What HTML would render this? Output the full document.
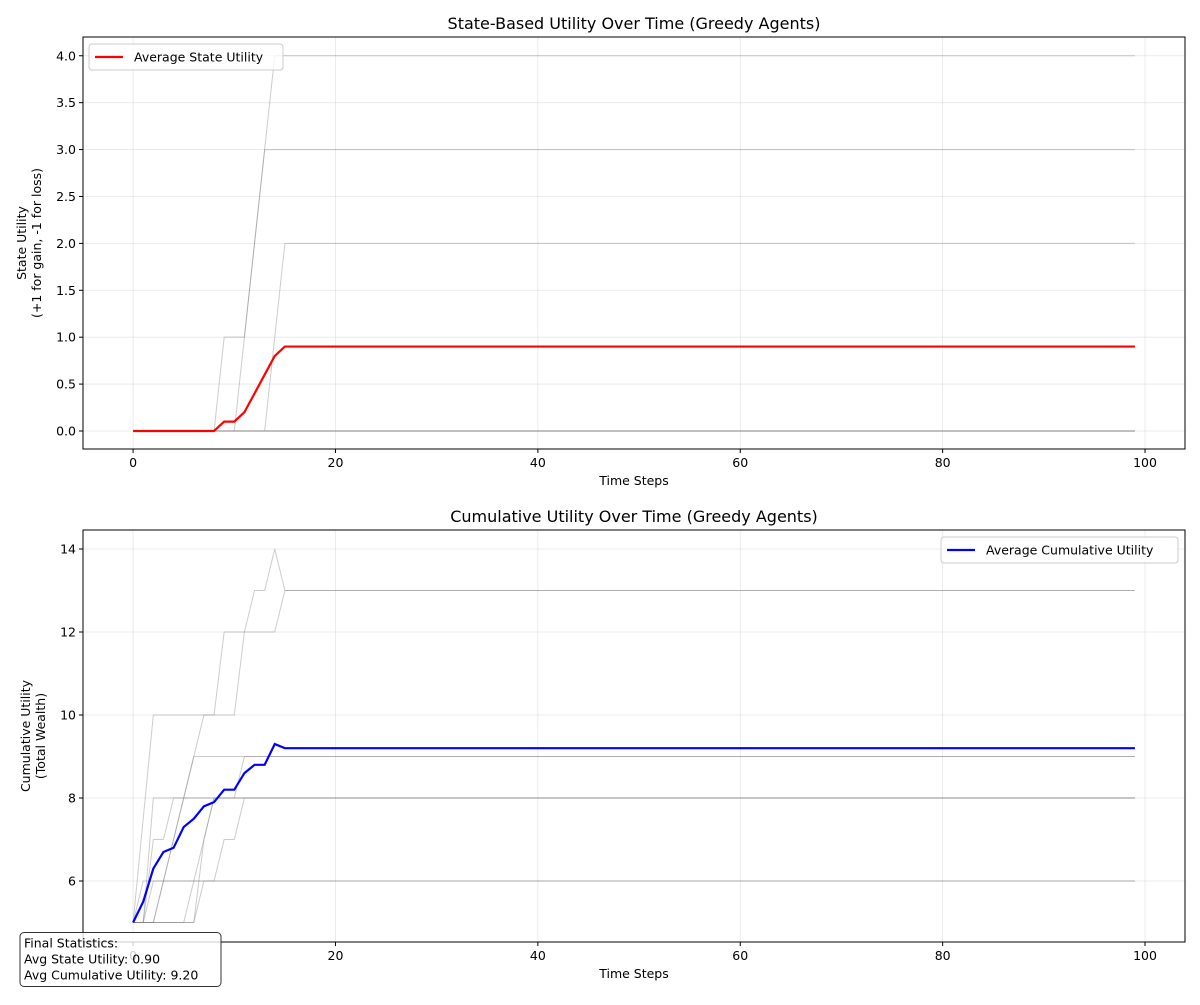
<!DOCTYPE html>
<html><head><meta charset="utf-8"><style>
body{margin:0;background:#fff;}
svg text{font-family:"DejaVu Sans","Liberation Sans",sans-serif;}
</style></head><body>
<svg id="fig" width="1200" height="1000" viewBox="0 0 1200 1000" xmlns="http://www.w3.org/2000/svg"></svg>
<script>
const timeSteps = 100;
const stateAvg = [0,0,0,0,0,0,0,0,0,0.1,0.1,0.2,0.4,0.6,0.8,0.9];
const stateAgents = [
 [0,0,0,0,0,0,0,0,0,1,1,1,2,3,3],
 [0,0,0,0,0,0,0,0,0,0,0,1,2,3,4],
 [0,0,0,0,0,0,0,0,0,0,0,0,0,0,1,2],
 [0],[0],[0],[0],[0],[0],[0]
];
const cumAvg = [5,5.5,6.3,6.7,6.8,7.3,7.5,7.8,7.9,8.2,8.2,8.6,8.8,8.8,9.3,9.2];
const cumAgents = [
 [5,7.5,10,10,10,10,10,10,10,12,12,12,13,13,14,13],
 [5,5,5,6,7,8,9,10,10,10,10,12,12,12,12,13],
 [5,5,7,7,8,8,9,9,9,9,9,9],
 [5,5,5,5,5,5,5,7,8,8,8,9],
 [5,5,8,8,8,8,8],
 [5,5,6,6,7,8,8],
 [5,6,6,6,6,6],
 [5,5,5,6,6,6],
 [5,5,5,5,5,5,5,6,6,7,7,8],
 [5,5,5,5,5,5,6,7,8,8,8,8]
];
const topYTicks = [0,0.5,1,1.5,2,2.5,3,3.5,4];
const botYTicks = [6,8,10,12,14];
const xTicks = [0,20,40,60,80,100];

const NS="http://www.w3.org/2000/svg";
const svg=document.getElementById('fig');
function el(tag,attrs,parent){const e=document.createElementNS(NS,tag);for(const k in attrs)e.setAttribute(k,attrs[k]);(parent||svg).appendChild(e);return e;}
function extend(arr){const a=arr.slice();while(a.length<timeSteps)a.push(a[a.length-1]);return a;}

function panel(o){
  const g=el('g',{});
  
  
  const L=83,R=1185,T=o.top,B=o.top+412;
  const xmin=-4.95,xmax=103.95;
  const xs=v=>L+(v-xmin)/(xmax-xmin)*(R-L);
  const ys=v=>B-(v-o.ymin)/(o.ymax-o.ymin)*(B-T);
  xTicks.forEach(t=>{const l=el('line',{x1:xs(t),x2:xs(t),y1:T,y2:B,stroke:'#b0b0b0','stroke-opacity':0.3,'stroke-width':0.8},g);});
  o.yticks.forEach(t=>{const l=el('line',{x1:L,x2:R,y1:ys(t),y2:ys(t),stroke:'#b0b0b0','stroke-opacity':0.3,'stroke-width':0.8},g);});
  o.agents.forEach(a=>{const v=extend(a);const p=el('polyline',{points:v.map((y,i)=>xs(i)+','+ys(y)).join(' '),fill:'none',stroke:'#808080','stroke-opacity':0.4,'stroke-width':1},g);});
  const av=extend(o.avg);
  const p=el('polyline',{points:av.map((y,i)=>xs(i)+','+ys(y)).join(' '),fill:'none',stroke:o.color,'stroke-width':2.2},g);
  
  const f=el('rect',{x:L,y:T,width:R-L,height:B-T,fill:'none',stroke:'#000','stroke-width':1},g);
  
  xTicks.forEach(t=>{el('line',{x1:xs(t),x2:xs(t),y1:B,y2:B+4,stroke:'#000'},g);const tx=el('text',{x:xs(t),y:B+18,'text-anchor':'middle','font-size':12.5},g);tx.textContent=t;});
  o.yticks.forEach(t=>{el('line',{x1:L-4,x2:L,y1:ys(t),y2:ys(t),stroke:'#000'},g);const tx=el('text',{x:L-7,y:ys(t)+4.5,'text-anchor':'end','font-size':12.5},g);tx.textContent=o.fmt(t);});
  const tt=el('text',{x:(L+R)/2,y:T-8,'text-anchor':'middle','font-size':16},g);tt.textContent=o.title;
  const xl=el('text',{x:(L+R)/2,y:B+36,'text-anchor':'middle','font-size':12.5},g);xl.textContent='Time Steps';
  const cy=(T+B)/2;
  const yl=el('text',{transform:`translate(${o.ylx},${cy}) rotate(-90)`,'text-anchor':'middle','font-size':12.5},g);
  
  const t1=el('tspan',{x:0,dy:0},yl);t1.textContent=o.ylab[0];
  const t2=el('tspan',{x:0,dy:15},yl);t2.textContent=o.ylab[1];
  const lg=el('g',{},g);
  el('rect',{x:o.lx,y:T+7,width:o.lw,height:26,rx:3,fill:'#fff','fill-opacity':0.8,stroke:'#ccc'},lg);
  el('line',{x1:o.lx+6,x2:o.lx+34,y1:T+20,y2:T+20,stroke:o.color,'stroke-width':2.2},lg);
  const lt=el('text',{x:o.lx+45,y:T+24.5,'font-size':12.5},lg);lt.textContent=o.leg;
}
panel({name:'state-utility-chart',top:37,ymin:-0.192,ymax:4.2,yticks:topYTicks,fmt:t=>t.toFixed(1),agents:stateAgents,avg:stateAvg,color:'#ff0000',title:'State-Based Utility Over Time (Greedy Agents)',ylab:['State Utility','(+1 for gain, -1 for loss)'],ylx:26,lx:89,lw:194,leg:'Average State Utility'});
panel({name:'cumulative-utility-chart',top:530,ymin:4.53,ymax:14.458,yticks:botYTicks,fmt:t=>t,agents:cumAgents,avg:cumAvg,color:'#0000ff',title:'Cumulative Utility Over Time (Greedy Agents)',ylab:['Cumulative Utility','(Total Wealth)'],ylx:30,lx:941,lw:237,leg:'Average Cumulative Utility'});
const sb=el('g',{});
el('rect',{x:20,y:932.5,width:201,height:54,rx:4,fill:'#fff','fill-opacity':0.8,stroke:'#333'},sb);
['Final Statistics:','Avg State Utility: 0.90','Avg Cumulative Utility: 9.20'].forEach((s,i)=>{const t=el('text',{x:24,y:947.5+i*16,'font-size':12.5},sb);t.textContent=s;});
</script>
</body></html>
